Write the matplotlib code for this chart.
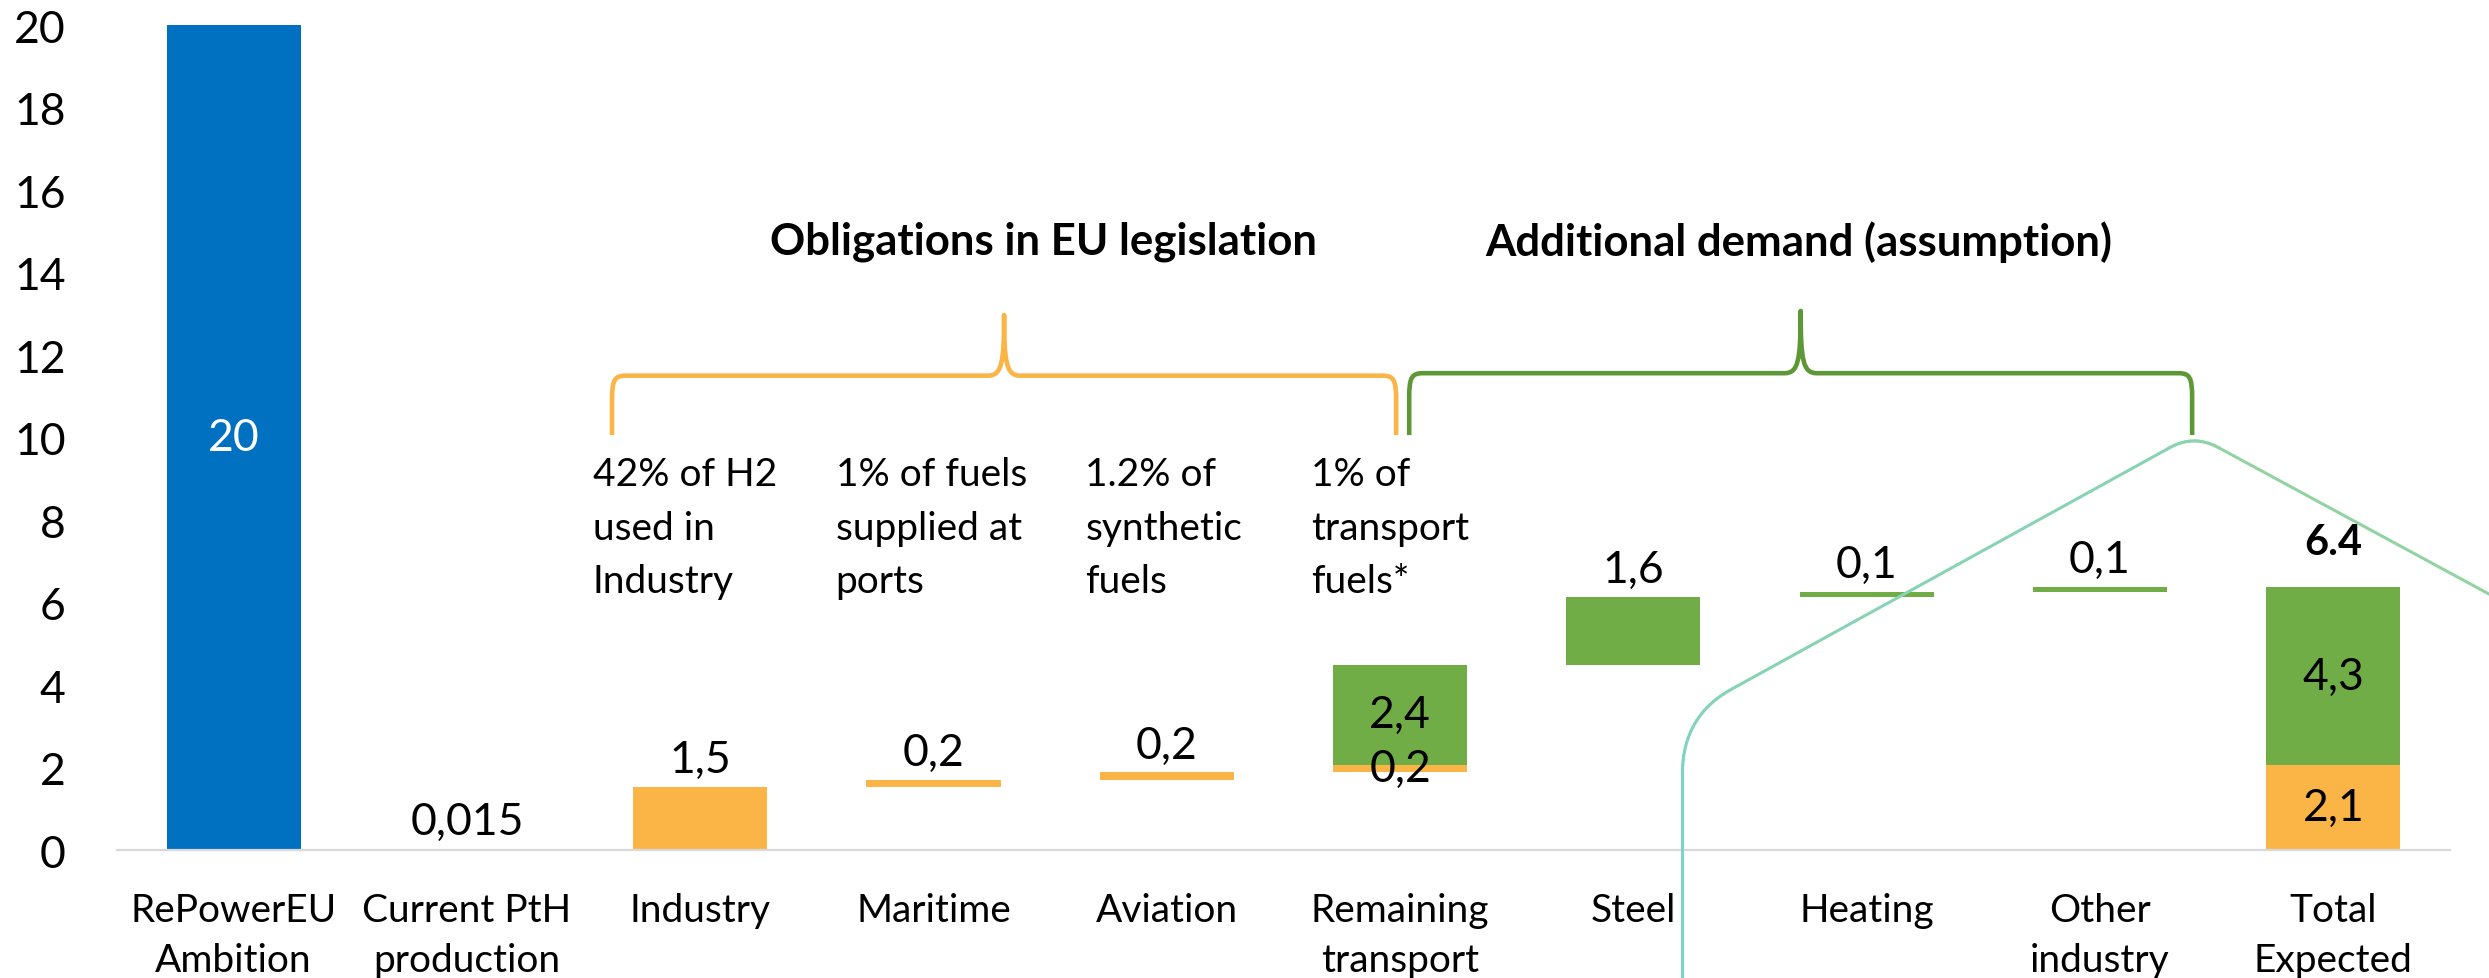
import numpy as np
import matplotlib
matplotlib.use('Agg')
import matplotlib.pyplot as plt
import matplotlib.colors as mcolors
from matplotlib.path import Path
from matplotlib.patches import PathPatch
from matplotlib.collections import LineCollection

plt.rcParams['font.family'] = ['Lato', 'DejaVu Sans']

# ---- data ----
categories = ['RePowerEU\nAmbition', 'Current PtH\nproduction', 'Industry', 'Maritime',
              'Aviation', 'Remaining\ntransport', 'Steel', 'Heating', 'Other\nindustry',
              'Total\nExpected']
ambition = 20
current_pth = 0.015
# obligations in EU legislation (orange), stacked as waterfall
orange_cats = ['Industry', 'Maritime', 'Aviation', 'Remaining\ntransport']
orange_vals = [1.54, 0.17, 0.17, 0.19]
# additional demand, assumption (green)
green_cats = ['Remaining\ntransport', 'Steel', 'Heating', 'Other\nindustry']
green_vals = [2.42, 1.64, 0.12, 0.12]
notes = ['42% of H2\nused in\nIndustry', '1% of fuels\nsupplied at\nports',
         '1.2% of\nsynthetic\nfuels', '1% of\ntransport\nfuels*']
note_dx = [-0.46, -0.42, -0.35, -0.38]

BLUE, ORANGE, GREEN = '#0070C0', '#FBB446', '#70AD47'
BRACE_GREEN = '#5E9836'

pos = {c: i for i, c in enumerate(categories)}
W = 0.575

fig = plt.figure(figsize=(24.89, 9.79), dpi=100)
ax = fig.add_axes([0.0470, 0.1307, 0.9373, 0.8427])

def fmt(v, nd=1):
    return f'{v:.{nd}f}'.replace('.', ',')

def above(x, top, s, off=15, fs=32, **kw):
    ax.annotate(s, (x, top), xytext=(0, off), textcoords='offset pixels',
                ha='center', va='baseline', fontsize=fs, **kw)

# ambition + current
ax.bar(pos['RePowerEU\nAmbition'], ambition, W, color=BLUE)
ax.text(pos['RePowerEU\nAmbition'], ambition / 2, str(ambition), ha='center', va='center',
        color='white', fontsize=32)
ax.bar(pos['Current PtH\nproduction'], current_pth, W, color=ORANGE)
above(pos['Current PtH\nproduction'], current_pth, fmt(current_pth, 3))

# orange waterfall
o_bottoms = np.concatenate([[0], np.cumsum(orange_vals)[:-1]])
ox = [pos[c] for c in orange_cats]
ax.bar(ox, orange_vals, W, bottom=o_bottoms, color=ORANGE)
o_total = sum(orange_vals)

# green waterfall, starting on top of orange total
g_bottoms = o_total + np.concatenate([[0], np.cumsum(green_vals)[:-1]])
gx = [pos[c] for c in green_cats]
ax.bar(gx, green_vals, W, bottom=g_bottoms, color=GREEN)
g_total = sum(green_vals)

for x, b, v in zip(ox[:-1], o_bottoms[:-1], orange_vals[:-1]):
    above(x, b + v, fmt(v))
for x, b, v in zip(gx[1:], g_bottoms[1:], green_vals[1:]):
    above(x, b + v, fmt(v))
# remaining transport: both labels inside
ax.text(ox[-1], o_bottoms[-1] + orange_vals[-1] / 2, fmt(orange_vals[-1]),
        ha='center', va='center', fontsize=32)
ax.text(gx[0], g_bottoms[0] + green_vals[0] / 2, fmt(green_vals[0]),
        ha='center', va='center', fontsize=32)

# total
tx = pos['Total\nExpected']
ax.bar(tx, o_total, W, color=ORANGE)
ax.bar(tx, g_total, W, bottom=o_total, color=GREEN)
ax.text(tx, o_total / 2, fmt(o_total), ha='center', va='center', fontsize=32)
ax.text(tx, o_total + g_total / 2, fmt(g_total), ha='center', va='center', fontsize=32)
above(tx, o_total + g_total, f'{o_total + g_total:.1f}', off=33, fs=30, fontweight='bold')

# notes above the obligation bars
for c, s, dx in zip(orange_cats, notes, note_dx):
    ax.text(pos[c] + dx, 9.55, s, ha='left', va='top', fontsize=28, linespacing=1.6)

# curly braces
def brace(x0, x1, yh, ytip, yb, color):
    xm = (x0 + x1) / 2
    verts = [(x0, yb), (x0, yh - 0.6),
             (x0, yh - 0.1), (x0 + 0.01, yh), (x0 + 0.06, yh),
             (xm - 0.07, yh),
             (xm - 0.01, yh), (xm, yh + 0.3), (xm, ytip),
             (xm, yh + 0.3), (xm + 0.01, yh), (xm + 0.07, yh),
             (x1 - 0.06, yh),
             (x1 - 0.01, yh), (x1, yh - 0.1), (x1, yh - 0.6),
             (x1, yb)]
    codes = [Path.MOVETO, Path.LINETO] + [Path.CURVE4] * 3 + [Path.LINETO] + \
            [Path.CURVE4] * 6 + [Path.LINETO] + [Path.CURVE4] * 3 + [Path.LINETO]
    ax.add_patch(PathPatch(Path(verts, codes), fill=False, ec=color, lw=3.3,
                           capstyle='butt', joinstyle='round', clip_on=False))

brace(1.622, 4.983, 11.50, 12.97, 10.06, ORANGE)
brace(5.039, 8.395, 11.56, 13.07, 10.06, BRACE_GREEN)
ax.text(3.47, 14.76, 'Obligations in EU legislation', ha='center', va='center',
        fontsize=31.5, fontweight='bold')
ax.text(6.71, 14.76, 'Additional demand (assumption)', ha='center', va='center',
        fontsize=31.5, fontweight='bold')

# callout outline running from the green brace
def qbez(p0, p1, p2, n=25):
    t = np.linspace(0, 1, n)[:, None]
    p0, p1, p2 = map(np.asarray, (p0, p1, p2))
    return (1 - t) ** 2 * p0 + 2 * (1 - t) * t * p1 + t ** 2 * p2

pts = np.vstack([
    [(6.21, -3.3)],
    qbez((6.21, 1.84), (6.21, 3.25), (6.421, 3.90)),
    qbez((8.288, 9.72), (8.399, 10.10), (8.51, 9.75)),
    [(9.81, 5.77)],
])
segs = np.stack([pts[:-1], pts[1:]], axis=1)
teal, lgreen = np.array(mcolors.to_rgb('#7DD3C8')), np.array(mcolors.to_rgb('#93D3A2'))
apex_i = len(pts) - 2
f = np.clip(np.arange(len(segs)) / apex_i, 0, 1)[:, None]
cols = teal * (1 - f) + lgreen * f
ax.add_collection(LineCollection(segs, colors=cols, lw=2.2, clip_on=False, zorder=3,
                                 capstyle='round'))

# axes styling
ax.set_xlim(-0.5, 9.5)
ax.set_ylim(0, 20)
ax.set_yticks(np.arange(0, 21, 2))
ax.set_xticks(range(len(categories)))
ax.set_xticklabels(categories, fontsize=28, linespacing=1.5)
ax.tick_params(axis='y', length=0, labelsize=32, pad=37)
ax.tick_params(axis='x', length=0, pad=30)
for s in ['top', 'right', 'left']:
    ax.spines[s].set_visible(False)
ax.spines['bottom'].set_color('#D9D9D9')
ax.spines['bottom'].set_linewidth(1.6)

fig.savefig('out.png', dpi=100)
